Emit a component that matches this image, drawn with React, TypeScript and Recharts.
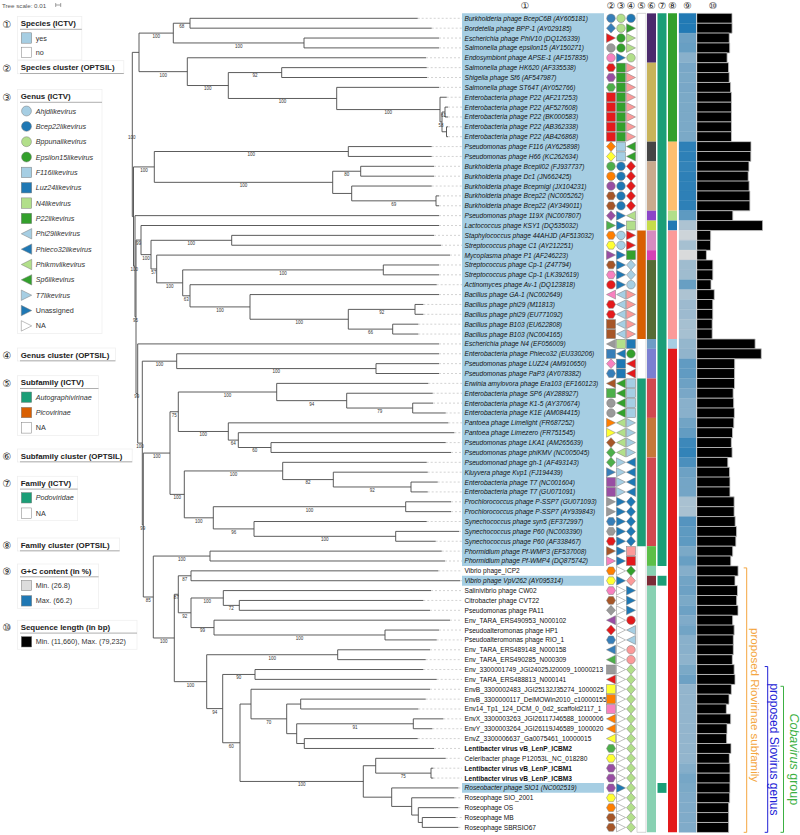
import React, { useMemo } from "react";
import {
  ComposedChart,
  BarChart,
  Bar,
  XAxis,
  YAxis,
  Scatter,
  ReferenceLine,
  ReferenceArea,
} from "recharts";

// ─── Leaves (top to bottom) ───────────────────────────────────────────────────

const LEAF_NAMES = [
  "Burkholderia phage BcepC6B (AY605181)",
  "Bordetella phage BPP-1 (AY029185)",
  "Escherichia phage PhiV10 (DQ126339)",
  "Salmonella phage epsilon15 (AY150271)",
  "Endosymbiont phage APSE-1 (AF157835)",
  "Salmonella phage HK620 (AF335538)",
  "Shigella phage Sf6 (AF547987)",
  "Salmonella phage ST64T (AY052766)",
  "Enterobacteria phage P22 (AF217253)",
  "Enterobacteria phage P22 (AF527608)",
  "Enterobacteria phage P22 (BK000583)",
  "Enterobacteria phage P22 (AB362338)",
  "Enterobacteria phage P22 (AB426868)",
  "Pseudomonas phage F116 (AY625898)",
  "Pseudomonas phage H66 (KC262634)",
  "Burkholderia phage Bcepil02 (FJ937737)",
  "Burkholderia phage Dc1 (JN662425)",
  "Burkholderia phage Bcepmigl (JX104231)",
  "Burkholderia phage Bcep22 (NC005262)",
  "Burkholderia phage Bcep22 (AY349011)",
  "Pseudomonas phage 119X (NC007807)",
  "Lactococcus phage KSY1 (DQ535032)",
  "Staphylococcus phage 44AHJD (AF513032)",
  "Streptococcus phage C1 (AY212251)",
  "Mycoplasma phage P1 (AF246223)",
  "Streptococcus phage Cp-1 (Z47794)",
  "Streptococcus phage Cp-1 (LK392619)",
  "Actinomyces phage Av-1 (DQ123818)",
  "Bacillus phage GA-1 (NC002649)",
  "Bacillus phage phi29 (M11813)",
  "Bacillus phage phi29 (EU771092)",
  "Bacillus phage B103 (EU622808)",
  "Bacillus phage B103 (NC004165)",
  "Escherichia phage N4 (EF056009)",
  "Enterobacteria phage Phieco32 (EU330206)",
  "Pseudomonas phage LUZ24 (AM910650)",
  "Pseudomonas phage PaP3 (AY078382)",
  "Erwinia amylovora phage Era103 (EF160123)",
  "Enterobacteria phage SP6 (AY288927)",
  "Enterobacteria phage K1-5 (AY370674)",
  "Enterobacteria phage K1E (AM084415)",
  "Pantoea phage Limelight (FR687252)",
  "Pantoea phage Limezero (FR751545)",
  "Pseudomonas phage LKA1 (AM265639)",
  "Pseudomonas phage phiKMV (NC005045)",
  "Pseudomonad phage gh-1 (AF493143)",
  "Kluyvera phage Kvp1 (FJ194439)",
  "Enterobacteria phage T7 (NC001604)",
  "Enterobacteria phage T7 (GU071091)",
  "Prochlorococcus phage P-SSP7 (GU071093)",
  "Prochlorococcus phage P-SSP7 (AY939843)",
  "Synechococcus phage syn5 (EF372997)",
  "Synechococcus phage P60 (NC003390)",
  "Synechococcus phage P60 (AF338467)",
  "Phormidium phage Pf-WMP3 (EF537008)",
  "Phormidium phage Pf-WMP4 (DQ875742)",
  "Vibrio phage_ICP2",
  "Vibrio phage VpV262 (AY095314)",
  "Salinivibrio phage CW02",
  "Citrobacter phage CVT22",
  "Pseudomonas phage PA11",
  "Env_TARA_ERS490953_N000102",
  "Pseudoalteromonas phage HP1",
  "Pseudoalteromonas phage RIO_1",
  "Env_TARA_ERS489148_N000158",
  "Env_TARA_ERS490285_N000309",
  "Env_3300001749_JGI24025J20009_10000213",
  "Env_TARA_ERS488813_N000141",
  "EnvB_3300002483_JGI25132J35274_1000025",
  "EnvB_3300000117_DelMOWin2010_c10000155",
  "Env14_Tp1_124_DCM_0_0d2_scaffold2117_1",
  "EnvX_3300003263_JGI26117J46588_1000006",
  "EnvY_3300003264_JGI26119J46589_1000020",
  "EnvZ_3300006637_Ga0075461_10000015",
  "Lentibacter virus vB_LenP_ICBM2",
  "Celeribacter phage P12053L_NC_018280",
  "Lentibacter virus vB_LenP_ICBM1",
  "Lentibacter virus vB_LenP_ICBM3",
  "Roseobacter phage SIO1 (NC002519)",
  "Roseophage SIO_2001",
  "Roseophage OS",
  "Roseophage MB",
  "Roseophage SBRSIO67",
];

// rows in bold type (1-based)
const BOLD_ROWS = [75, 77, 78];

// ─── Tree (Newick, leaves numbered by row, bootstrap as node labels) ─────────

const CLADE_A =
  "(((1:0.4554,2:0.4834)68:0.0334,(3:0.27,4:0.27)100:0.2614)100:0.0686," +
  "(5:0.4774,((6:0.29,7:0.2906)92:0.1068,(8:0.2046,(9:0.0134,((10:0.006,11:0.006)61:0.006," +
  "(12:0.003,13:0.003):0.009)58:0.004)100:0.2066)100:0.2168)100:0.082)100:0.0966):0.0134";
const CLADE_B =
  "((14:0.1668,15:0.1668)100:0.388,((16:0.1466,17:0.1466)80:0.056," +
  "(18:0.16,(19:0.006,20:0.006)69:0.1686):0.038)100:0.3568)100:0.0416";
const CLADE_PICO =
  "(22:0.596,((23:0.4046,24:0.4186)100:0.1614,(25:0.5866,((26:0.1114,27:0.1114)100:0.4012," +
  "(28:0.4934,(29:0.378,((30:0.0166,31:0.0166)92:0.1334,(32:0.0512,33:0.0512)66:0.0888)100:0.1966)100:0.12)63:0.0146)100:0.052)57:0.0114)100:0.02)99:0.01";
const CLADE_LUZ = "(35:0.5246,(36:0.126,37:0.126)100:0.3986)100:0.0688";
const CLADE_SP6 =
  "((38:0.3032,(39:0.172,(40:0.0406,41:0.066)79:0.132)94:0.14)100:0.1968," +
  "(42:0.44,(43:0.432,(44:0.3494,45:0.36)60:0.0654)64:0.02)100:0.1)75:0.0166";
const CLADE_T7 =
  "((46:0.288,(47:0.1888,(48:0.0534,49:0.0334)92:0.1554)82:0.1012)100:0.1968," +
  "((50:0.0906,51:0.0906)100:0.3848,(52:0.3454,(53:0.1266,54:0.08)100:0.2834)96:0.0814)100:0.058)100:0.0286";
const CLADE_RIO_A =
  "((57:0.4946,58:0.538)87:0.0254,((59:0.4154,(60:0.368,61:0.3814)72:0.032)100:0.0646," +
  "(62:0.472,(63:0.108,64:0.1034)100:0.342)99:0.046)92:0.0254)87:0.008";
const CLADE_SIO =
  "((67:0.3366,68:0.3634)90:0.0646,((69:0.358,((70:0.25,71:0.2352):0.028,((72:0.06,73:0.038)91:0.2332," +
  "(74:0.2268,75:0.2594):0.0152):0.02)70:0.0714):0.022,((76:0.14,(77:0.0046,78:0.0046)75:0.1106):0.0248," +
  "(79:0.1332,(80:0.0852,(81:0.08,(82:0.0668,83:0.072):0.008):0.0132):0.04):0.0568)100:0.2466)60:0.0346)94:0.032";
const CLADE_RIO =
  "((55:0.4634,56:0.47)100:0.1134,(" + CLADE_RIO_A + ",((65:0.1846,66:0.176)100:0.262," +
  CLADE_SIO + ")100:0.0648)100:0.042)85:0.02";

const TREE_NEWICK =
  "(" + CLADE_A + ",(" + CLADE_B + ",(21:0.608,(" + CLADE_PICO + ",(34:0.6026,(" + CLADE_LUZ +
  ",((" + CLADE_SP6 + "," + CLADE_T7 + ")100:0.0534," + CLADE_RIO +
  ")99:0.002)100:0.0092)99:0.0034)95:0.002)100:0.003):0.0024)100;";

// ─── Annotation columns (one entry per row) ──────────────────────────────────

// ① species (ICTV): 1 = yes
const SPECIES_ICTV = (
  "11111111111111111111111111111111111111111111111111111111" + "0" + "1" + "00000000000000000000" + "1" + "0000"
).split("");

// ② species cluster (OPTSIL): shape + colour key
const SPECIES_CLUSTER = (
  "CB DB RR CA CK HR HP HG SR SR SR SR SR " +
  "DO DY CG CO CP HN HN " +
  "DP RG HO HY RP HN HK CR LK HR HR SN SN " +
  "LA SB DK HB " +
  "LN SG CA CA RO RY DN DG DG RB SP SP RA RA HB HA HR RN RK " +
  "HO HY HK HN DA LP DR HB LB LG SA LR SY SO SK LO LO LY HG HY HP HP HP HY HO HN HN"
).split(" ");

// ③ genus (ICTV)
const GENUS_ICTV = (
  "Cl Cl Cg Cg Rd Sg Sg Sg Sg Sg Sg Sg Sg " +
  "Sb Sb Cd Cd Cd Cd Cd " +
  "Rd Rd Cb Cb Rd Rd Rd Rd Lb Lb Lb Lb Lb " +
  "Sl Ld Sd Sd " +
  "Lg Lg Lg Lg Ll Ll Ll Ll Rb Rb Rb Rb Rd Rd Rd Rd Rd Rd Rd " +
  "Rw Rd Rw Rw Rw Rw Rw Rw Rw Rw Rw Rw Rw Rw Rw Rw Rw Rw Rw Rw Rw Rw Rd Rw Rw Rw Rw"
).split(" ");

// ④ genus cluster (OPTSIL)
const GENUS_CLUSTER = (
  "Cd Rg Rl Rl Cl Rk Rk Rk Rk Rk Rk Rk Rk " +
  "Lg Lg Dr Dr Dr Dr Dr " +
  "Ll Sl Rr Rr Sg Db Db Cb Rk Rk Rk Rk Rk " +
  "Sd Cg Lr Lr " +
  "Sb Sb Sb Sb Rb Rb Rb Rb Ld Ld Ld Ld Dd Dd Dd Dd Dd Sk Sr " +
  "Dg Dk Rd Rd Rd Cr Lb Lb Ck Ck Dl Dl Dl Dl Dl Dl Dl Dl Dl Dl Dl Dl Dl Dl Dl Dl Dl"
).split(" ");

// ⑤ subfamily (ICTV): n = NA, p = Picovirinae, a = Autographivirinae
const SUBFAMILY = (
  "nnnnnnnnnnnnnnnnnnnnnn" + "ppppppppppp" + "nnnn" + "aaaaaaaaaaaaaaaaa" + "nnnnnnnnnnnnnnnnnnnnnnnnnnnnn"
).split("");

// ⑥ subfamily cluster (OPTSIL)
const SUBFAMILY_CLUSTER = [
  1, 1, 1, 1, 1, 2, 2, 2, 2, 2, 2, 2, 2, 3, 3, 4, 4, 4, 4, 4,
  5, 6, 7, 7, 8, 9, 9, 9, 9, 9, 9, 9, 9, 10, 11, 11, 11,
  12, 12, 12, 12, 13, 13, 13, 13, 12, 12, 12, 12, 12, 12, 12, 12, 12, 14, 14,
  15, 16, 15, 15, 15, 15, 15, 15, 15, 15, 15, 15, 15, 15, 15, 15, 15, 15, 15, 15, 15, 15, 15, 15, 15, 15, 15,
];

// ⑦ family (ICTV): 1 = Podoviridae
const FAMILY_ICTV = (
  "11111111111111111111111111111111111111111111111111111111" + "0" + "1" + "00000000000000000000" + "1" + "0000"
).split("");

// ⑧ family cluster (OPTSIL)
const FAMILY_CLUSTER = [
  1, 1, 1, 1, 1, 1, 1, 1, 1, 1, 1, 1, 1, 2, 2, 2, 2, 2, 2, 2,
  3, 4, 5, 5, 5, 5, 5, 5, 5, 5, 5, 5, 5, 6,
  7, 7, 7, 7, 7, 7, 7, 7, 7, 7, 7, 7, 7, 7, 7, 7, 7, 7, 7, 7, 7, 7,
  7, 7, 7, 7, 7, 7, 7, 7, 7, 7, 7, 7, 7, 7, 7, 7, 7, 7, 7, 7, 7, 7, 7, 7, 7, 7, 7,
];

// ⑨ G+C content (%)
const GC_CONTENT = [
  65.5, 65.5, 50, 51, 44, 47.5, 47, 47.5, 47, 47, 47, 47, 47,
  63, 63, 62, 63, 63, 63, 63,
  53, 36.5, 30, 38, 27.5, 39.5, 39.5, 51, 36.5, 40, 40, 38, 38,
  41.5, 42.5, 52.5, 52.5,
  50, 47.5, 44, 44, 49, 52, 60, 62, 57, 50, 48.5, 48.5, 37.5, 37.5, 55, 53, 53, 47, 51,
  45, 49, 50, 47, 50, 46, 49, 44, 44, 43, 47, 50, 42, 42, 42, 42, 42, 42, 42, 42, 45, 48, 47, 46, 46, 46, 46,
];
const GC_RANGE = [26.8, 66.2];

// ⑩ sequence length (bp)
const SEQ_LENGTH = [
  42417, 42493, 39104, 39671, 36524, 38297, 39044, 40679, 41724, 41724, 41724, 41724, 41724,
  65195, 64999, 62714, 61847, 62952, 63882, 63882,
  43365, 79232, 16784, 16687, 11660, 19343, 19343, 17171, 21129, 19282, 19282, 18630, 18630,
  70153, 77554, 45625, 45503,
  45445, 43769, 44385, 45251, 44546, 43032, 41593, 42519, 37359, 39472, 39937, 39937, 44970, 44970,
  46214, 47872, 47000, 43249, 40938,
  49675, 45962, 49000, 48000, 49600, 43200, 45000, 44000, 44000, 42800, 45000, 46000, 41600, 38800,
  35600, 40800, 36400, 36000, 41200, 39200, 40000, 40000, 39898, 39600, 38400, 38400, 38400,
];

// proposed groups (first row, last row)
const GROUPS = [
  { name: "proposed Riovirinae subfamily", from: 57, to: 83 },
  { name: "proposed Siovirus genus", from: 67, to: 83 },
  { name: "Cobavirus group", from: 69, to: 83 },
];

// ─── Colours ──────────────────────────────────────────────────────────────────

const PALETTE: Record<string, string> = {
  R: "#e41a1c", B: "#377eb8", G: "#4daf4a", P: "#984ea3", O: "#ff7f00",
  Y: "#ffff33", N: "#a65628", K: "#f781bf", A: "#999999",
  b: "#a6cee3", d: "#1f78b4", l: "#b2df8a", g: "#33a02c", k: "#fb9a99", r: "#e31a1c", w: "#ffffff",
};
const SUBFAMILY_COLORS: Record<string, string | null> = { n: null, p: "#d95f02", a: "#1b9e77" };
const SUBFAMILY_CLUSTER_COLORS: Record<number, string> = {
  1: "#4b2a6c", 2: "#c8b35a", 3: "#454545", 4: "#c9aa8e", 5: "#8b45c8", 6: "#c6dc4a",
  7: "#d68cc0", 8: "#d641b5", 9: "#566b36", 10: "#6f9cc6", 11: "#7b7fd1", 12: "#d1484f",
  13: "#c57839", 14: "#5cbf48", 15: "#88d1b2", 16: "#7b2b36",
};
const FAMILY_CLUSTER_COLORS: Record<number, string> = {
  1: "#33a02c", 2: "#fdbf6f", 3: "#b2df8a", 4: "#1f78b4", 5: "#fb9a99", 6: "#a6cee3", 7: "#e31a1c",
};
const PODO = "#1b9e77";
const LABEL_BG = "#a6cee3";
const GC_LOW = [220, 220, 220];
const GC_HIGH = [31, 120, 180];
const GROUP_COLORS = ["#f4a640", "#2222d6", "#3cb043"];
const BRANCH = "#4a4a4a";

// ─── Layout ───────────────────────────────────────────────────────────────────

const W = 800;
const H = 835;
const FONT = "'Liberation Sans', Arial, Helvetica, sans-serif";
const ROOT_PX = 132.3;
const PX_PER_UNIT = 500;
const TREE_DOMAIN = [-ROOT_PX / PX_PER_UNIT, (W - ROOT_PX) / PX_PER_UNIT];
const ROW_TOP = 18.3;
const ROW_PX = 9.867;
const ROW_DOMAIN = [-ROW_TOP / ROW_PX, (H - ROW_TOP) / ROW_PX];
const ALIGN_DEPTH = (462 - ROOT_PX) / PX_PER_UNIT;
const SCALE_BAR_X = (55.7 - ROOT_PX) / PX_PER_UNIT;
const HEADER_ROW = (5 - ROW_TOP) / ROW_PX;

const COL = {
  labelBox: [462, 604],
  label: 464.5,
  species: 611,
  genus: 621,
  genusCl: 631,
  subfam: [637, 646],
  subfamCl: [647, 656],
  family: [657.5, 666.5],
  familyCl: [668, 677],
  gc: [679, 696],
  bars: [696.7, 762.7],
};
const GROUP_X = [746.7, 767.7, 783.5];
const GROUP_TEXT_X = [754.5, 774, 793.5];
const HEADERS: [string, number][] = [
  ["①", 525], ["②", 611], ["③", 621], ["④", 631], ["⑤", 641.5],
  ["⑥", 651.5], ["⑦", 662], ["⑧", 672.5], ["⑨", 687.5], ["⑩", 713],
];

// ─── Tree parsing / layout ────────────────────────────────────────────────────

interface TNode {
  children: TNode[];
  label: string;
  len: number;
  depth: number;
  y: number;
  parent: TNode | null;
}

function parseNewick(s: string): TNode {
  let i = 0;
  const read = (): TNode => {
    const node: TNode = { children: [], label: "", len: 0, depth: 0, y: 0, parent: null };
    if (s[i] === "(") {
      i++;
      node.children.push(read());
      while (s[i] === ",") {
        i++;
        node.children.push(read());
      }
      i++;
    }
    let lab = "";
    while (i < s.length && !":,();".includes(s[i])) lab += s[i++];
    node.label = lab;
    if (s[i] === ":") {
      i++;
      let num = "";
      while (i < s.length && !",();".includes(s[i])) num += s[i++];
      node.len = parseFloat(num);
    }
    return node;
  };
  return read();
}

function layoutTree(root: TNode): TNode[] {
  const all: TNode[] = [];
  const walk = (n: TNode, parent: TNode | null) => {
    n.parent = parent;
    n.depth = (parent ? parent.depth : 0) + n.len;
    if (n.children.length) {
      n.children.forEach((c) => walk(c, n));
      n.y = (n.children[0].y + n.children[n.children.length - 1].y) / 2;
    } else {
      n.y = parseInt(n.label, 10) - 1;
    }
    all.push(n);
  };
  root.len = 0;
  walk(root, null);
  return all;
}

function runs<T>(arr: T[]) {
  const out: { start: number; end: number; value: T }[] = [];
  arr.forEach((v, i) => {
    const last = out[out.length - 1];
    if (last && last.value === v && last.end === i - 1) last.end = i;
    else out.push({ start: i, end: i, value: v });
  });
  return out;
}

function gcColor(v: number) {
  const t = Math.max(0, Math.min(1, (v - GC_RANGE[0]) / (GC_RANGE[1] - GC_RANGE[0])));
  const c = GC_LOW.map((a, k) => Math.round(a + (GC_HIGH[k] - a) * t));
  return `rgb(${c[0]},${c[1]},${c[2]})`;
}

const colorOf = (key: string) => PALETTE[key] ?? key;

// ─── Shapes ───────────────────────────────────────────────────────────────────

function Glyph({ cx, cy, shape, fill, r = 4.5 }: { cx: number; cy: number; shape: string; fill: string; r?: number }) {
  const common = { fill, stroke: "#7d7d7d", strokeWidth: 0.5 };
  const poly = (pts: number[][]) => <polygon points={pts.map((p) => p.join(",")).join(" ")} {...common} />;
  switch (shape) {
    case "C":
      return <circle cx={cx} cy={cy} r={r * 0.95} {...common} />;
    case "S":
      return <rect x={cx - r} y={cy - r} width={2 * r} height={2 * r} {...common} />;
    case "D":
      return poly([[cx, cy - r * 1.1], [cx + r, cy], [cx, cy + r * 1.1], [cx - r, cy]]);
    case "R":
      return poly([[cx - r, cy - r], [cx + r, cy], [cx - r, cy + r]]);
    case "L":
      return poly([[cx + r, cy - r], [cx - r, cy], [cx + r, cy + r]]);
    default: {
      const pts = [0, 60, 120, 180, 240, 300].map((a) => [
        cx + r * Math.cos((a * Math.PI) / 180),
        cy + r * Math.sin((a * Math.PI) / 180),
      ]);
      return poly(pts);
    }
  }
}

// ─── Legend ───────────────────────────────────────────────────────────────────

type LegendItem = [string, string, string, boolean];

const GENUS_LEGEND: LegendItem[] = [
  ["C", "b", "Ahjdlikevirus", true],
  ["C", "d", "Bcep22likevirus", true],
  ["C", "l", "Bppunalikevirus", true],
  ["C", "g", "Epsilon15likevirus", true],
  ["S", "b", "F116likevirus", true],
  ["S", "d", "Luz24likevirus", true],
  ["S", "l", "N4likevirus", true],
  ["S", "g", "P22likevirus", true],
  ["L", "b", "Phi29likevirus", true],
  ["L", "d", "Phieco32likevirus", true],
  ["L", "l", "Phikmvlikevirus", true],
  ["L", "g", "Sp6likevirus", true],
  ["R", "b", "T7likevirus", true],
  ["R", "d", "Unassigned", false],
  ["R", "w", "NA", false],
];

const LEGEND_SECTIONS: { num: string; title: string; items: LegendItem[] }[] = [
  { num: "①", title: "Species (ICTV)", items: [["S", "b", "yes", false], ["S", "w", "no", false]] },
  { num: "②", title: "Species cluster (OPTSIL)", items: [] },
  { num: "③", title: "Genus (ICTV)", items: GENUS_LEGEND },
  { num: "④", title: "Genus cluster (OPTSIL)", items: [] },
  {
    num: "⑤",
    title: "Subfamily (ICTV)",
    items: [["S", "#1b9e77", "Autographivirinae", true], ["S", "#d95f02", "Picovirinae", true], ["S", "w", "NA", false]],
  },
  { num: "⑥", title: "Subfamily cluster (OPTSIL)", items: [] },
  { num: "⑦", title: "Family (ICTV)", items: [["S", "#1b9e77", "Podoviridae", true], ["S", "w", "NA", false]] },
  { num: "⑧", title: "Family cluster (OPTSIL)", items: [] },
  { num: "⑨", title: "G+C content (in %)", items: [["S", "#dcdcdc", "Min. (26.8)", false], ["S", "#1f78b4", "Max. (66.2)", false]] },
  { num: "⑩", title: "Sequence length (in bp)", items: [["S", "#000000", "Min. (11,660), Max. (79,232)", false]] },
];
const LEGEND_Y = [23.5, 67.7, 96.5, 355, 382.7, 456, 483.3, 545, 571, 627.3];

function LegendPanel() {
  return (
    <svg width={W} height={H} style={{ position: "absolute", left: 0, top: 0, pointerEvents: "none" }}>
      <text x={2} y={5} fontSize={6.2} fill="#555" dominantBaseline="central" fontFamily={FONT}>
        Tree scale: 0.01
      </text>
      {HEADERS.map(([t, x]) => (
        <text key={t} x={x} y={5.5} fontSize={9.5} textAnchor="middle" dominantBaseline="central" fill="#222" fontFamily="'DejaVu Sans', sans-serif">
          {t}
        </text>
      ))}
      {LEGEND_SECTIONS.map((s, si) => {
        const y0 = LEGEND_Y[si];
        const step = si === 0 ? 14.4 : 15.35;
        const titleW = s.title.length * 4.2;
        const itemW = s.items.length ? 16 + Math.max(...s.items.map((it) => it[2].length)) * 3.5 : 0;
        const right = 20 + Math.max(titleW, itemW) + 3;
        const bottom = s.items.length ? y0 + 14.5 + (s.items.length - 1) * step + 7.5 : y0 + 6;
        return (
          <g key={s.num} fontFamily={FONT}>
            <rect x={17.5} y={y0 - 7} width={right - 17.5} height={bottom - y0 + 7} fill="none" stroke="#efefef" strokeWidth={0.8} />
            <text x={7} y={y0 + 0.5} fontSize={10} textAnchor="middle" dominantBaseline="central" fill="#222" fontFamily="'DejaVu Sans', sans-serif">
              {s.num}
            </text>
            <text x={20.7} y={y0} fontSize={7.9} fontWeight="bold" dominantBaseline="central" fill="#222">
              {s.title}
            </text>
            <line x1={20} x2={right} y1={y0 + 5.8} y2={y0 + 5.8} stroke="#9a9a9a" strokeWidth={0.8} />
            {s.items.map((it, k) => {
              const y = y0 + 14.5 + k * step;
              return (
                <g key={it[2]}>
                  <Glyph cx={26.5} cy={y} shape={it[0]} fill={colorOf(it[1])} r={5.2} />
                  <text x={35.7} y={y} fontSize={7.2} fontStyle={it[3] ? "italic" : "normal"} dominantBaseline="central" fill="#333">
                    {it[2]}
                  </text>
                </g>
              );
            })}
          </g>
        );
      })}
    </svg>
  );
}

// ─── Chart ────────────────────────────────────────────────────────────────────

export default function App() {
  const nodes = useMemo(() => layoutTree(parseNewick(TREE_NEWICK)), []);

  const horizontals = nodes.filter((n) => n.parent);
  const verticals = nodes.filter((n) => n.children.length);
  const leaves = nodes.filter((n) => !n.children.length);
  const bootData = verticals
    .filter((n) => n.label)
    .map((n) => ({
      x: n.parent ? (n.parent.depth + n.depth) / 2 : n.depth - 0.001,
      y: n.y,
      text: n.label,
    }));

  const rows = LEAF_NAMES.map((_, i) => i);
  const labelData = LEAF_NAMES.map((name, i) => ({
    x: COL.label,
    y: i,
    name,
    italic: SPECIES_ICTV[i] === "1",
    bold: BOLD_ROWS.includes(i + 1),
  }));
  const markerData = (codes: string[], x: number) => codes.map((code, i) => ({ x, y: i, code }));
  const speciesRuns = runs(SPECIES_ICTV).filter((r) => r.value === "1");
  const barData = SEQ_LENGTH.map((len, i) => ({ row: String(i), len }));
  const groupText = GROUPS.map((g, k) => ({
    x: GROUP_TEXT_X[k],
    y: (g.from - 1.3 + g.to - 0.5) / 2 + (k === 0 ? 0.5 : 0),
    k,
    name: g.name,
  }));

  const stripAreas = (
    key: string,
    xs: number[],
    values: (string | number)[],
    colorFor: (v: any) => string | null
  ) =>
    runs(values).map((r) => {
      const fill = colorFor(r.value);
      if (!fill) return null;
      return (
        <ReferenceArea
          key={`${key}-${r.start}`}
          xAxisId="px"
          yAxisId="row"
          x1={xs[0]}
          x2={xs[1]}
          y1={r.start - 0.5}
          y2={r.end + 0.5}
          fill={fill}
          fillOpacity={1}
          stroke="none"
          ifOverflow="visible"
        />
      );
    });

  return (
    <div style={{ position: "absolute", left: 0, top: 0, width: W, height: H, background: "#fff", fontFamily: FONT }}>
      <ComposedChart width={W} height={H} margin={{ top: 0, right: 0, bottom: 0, left: 0 }}>
        <XAxis xAxisId="tree" type="number" dataKey="x" domain={TREE_DOMAIN} hide allowDataOverflow />
        <XAxis xAxisId="px" type="number" dataKey="x" domain={[0, W]} hide allowDataOverflow />
        <YAxis yAxisId="row" type="number" dataKey="y" domain={ROW_DOMAIN} reversed hide allowDataOverflow />

        {/* ① label background for ICTV species */}
        {speciesRuns.map((r) => (
          <ReferenceArea
            key={`sp-${r.start}`}
            xAxisId="px"
            yAxisId="row"
            x1={COL.labelBox[0]}
            x2={COL.labelBox[1]}
            y1={r.start - 0.5}
            y2={r.end + 0.5}
            fill={LABEL_BG}
            fillOpacity={1}
            stroke="none"
            ifOverflow="visible"
          />
        ))}

        {/* ⑤ – ⑧ strips */}
        {stripAreas("sf", COL.subfam, SUBFAMILY, (v) => SUBFAMILY_COLORS[v])}
        <ReferenceArea
          xAxisId="px"
          yAxisId="row"
          x1={COL.subfam[0]}
          x2={COL.subfam[1]}
          y1={-0.5}
          y2={rows.length - 0.5}
          fill="none"
          stroke="#c4c4c4"
          strokeWidth={0.7}
          ifOverflow="visible"
        />
        {stripAreas("sfc", COL.subfamCl, SUBFAMILY_CLUSTER, (v) => SUBFAMILY_CLUSTER_COLORS[v])}
        {stripAreas("fam", COL.family, FAMILY_ICTV, (v) => (v === "1" ? PODO : null))}
        {stripAreas("famc", COL.familyCl, FAMILY_CLUSTER, (v) => FAMILY_CLUSTER_COLORS[v])}

        {/* ⑨ G+C heatmap */}
        {GC_CONTENT.map((v, i) => (
          <ReferenceArea
            key={`gc-${i}`}
            xAxisId="px"
            yAxisId="row"
            x1={COL.gc[0]}
            x2={COL.gc[1]}
            y1={i - 0.5}
            y2={i + 0.5}
            fill={gcColor(v)}
            fillOpacity={1}
            stroke={gcColor(v)}
            strokeWidth={0.3}
            ifOverflow="visible"
          />
        ))}

        {/* tree: leader lines, horizontals, verticals */}
        {leaves.map((n, i) => (
          <ReferenceLine
            key={`ld-${i}`}
            xAxisId="tree"
            yAxisId="row"
            segment={[{ x: n.depth, y: n.y }, { x: ALIGN_DEPTH, y: n.y }]}
            stroke="#b5b5b5"
            strokeWidth={0.6}
            strokeDasharray="2 2"
            ifOverflow="visible"
          />
        ))}
        {horizontals.map((n, i) => (
          <ReferenceLine
            key={`h-${i}`}
            xAxisId="tree"
            yAxisId="row"
            segment={[{ x: n.parent!.depth, y: n.y }, { x: n.depth, y: n.y }]}
            stroke={BRANCH}
            strokeWidth={0.9}
            ifOverflow="visible"
          />
        ))}
        {verticals.map((n, i) => (
          <ReferenceLine
            key={`v-${i}`}
            xAxisId="tree"
            yAxisId="row"
            segment={[
              { x: n.depth, y: n.children[0].y },
              { x: n.depth, y: n.children[n.children.length - 1].y },
            ]}
            stroke={BRANCH}
            strokeWidth={0.9}
            ifOverflow="visible"
          />
        ))}

        {/* tree scale bar (0.01) */}
        <ReferenceLine
          xAxisId="tree"
          yAxisId="row"
          segment={[{ x: SCALE_BAR_X, y: HEADER_ROW }, { x: SCALE_BAR_X + 0.01, y: HEADER_ROW }]}
          stroke="#777"
          strokeWidth={0.7}
          ifOverflow="visible"
        />
        {[SCALE_BAR_X, SCALE_BAR_X + 0.01].map((x) => (
          <ReferenceLine
            key={`sb-${x}`}
            xAxisId="tree"
            yAxisId="row"
            segment={[{ x, y: HEADER_ROW - 0.2 }, { x, y: HEADER_ROW + 0.2 }]}
            stroke="#777"
            strokeWidth={0.7}
            ifOverflow="visible"
          />
        ))}

        {/* group brackets */}
        {GROUPS.map((g, k) => {
          const top = g.from - 1.3;
          const bot = g.to - 0.5;
          const x = GROUP_X[k];
          return [
            <ReferenceLine
              key={`g-${k}`}
              xAxisId="px"
              yAxisId="row"
              segment={[{ x, y: top }, { x, y: bot }]}
              stroke={GROUP_COLORS[k]}
              strokeWidth={1}
              ifOverflow="visible"
            />,
            <ReferenceLine
              key={`gt-${k}`}
              xAxisId="px"
              yAxisId="row"
              segment={[{ x: x - 3, y: top }, { x, y: top }]}
              stroke={GROUP_COLORS[k]}
              strokeWidth={1}
              ifOverflow="visible"
            />,
            <ReferenceLine
              key={`gb-${k}`}
              xAxisId="px"
              yAxisId="row"
              segment={[{ x: x - 3, y: bot }, { x, y: bot }]}
              stroke={GROUP_COLORS[k]}
              strokeWidth={1}
              ifOverflow="visible"
            />,
          ];
        })}

        {/* bootstrap values */}
        <Scatter
          xAxisId="tree"
          yAxisId="row"
          data={bootData}
          isAnimationActive={false}
          shape={(p: any) => (
            <text x={p.cx} y={p.cy + 3.4} fontSize={4.5} textAnchor="middle" dominantBaseline="central" fill="#333" fontFamily={FONT}>
              {p.payload.text}
            </text>
          )}
        />

        {/* leaf labels */}
        <Scatter
          xAxisId="px"
          yAxisId="row"
          data={labelData}
          isAnimationActive={false}
          shape={(p: any) => (
            <text
              x={p.cx}
              y={p.cy}
              fontSize={6.6}
              fontStyle={p.payload.italic ? "italic" : "normal"}
              fontWeight={p.payload.bold ? "bold" : "normal"}
              dominantBaseline="central"
              fill="#111"
              fontFamily={FONT}
            >
              {p.payload.name}
            </text>
          )}
        />

        {/* ② ③ ④ symbol columns */}
        {[
          markerData(SPECIES_CLUSTER, COL.species),
          markerData(GENUS_ICTV, COL.genus),
          markerData(GENUS_CLUSTER, COL.genusCl),
        ].map((d, k) => (
          <Scatter
            key={`m-${k}`}
            xAxisId="px"
            yAxisId="row"
            data={d}
            isAnimationActive={false}
            shape={(p: any) => (
              <Glyph cx={p.cx} cy={p.cy} shape={p.payload.code[0]} fill={colorOf(p.payload.code[1])} />
            )}
          />
        ))}

        {/* group names */}
        <Scatter
          xAxisId="px"
          yAxisId="row"
          data={groupText}
          isAnimationActive={false}
          shape={(p: any) => {
            const { k, name } = p.payload;
            const words = name.split(" ");
            return (
              <text
                x={p.cx}
                y={p.cy}
                transform={`rotate(90 ${p.cx} ${p.cy})`}
                fontSize={[11.5, 12, 12.5][k]}
                textAnchor="middle"
                dominantBaseline="central"
                fill={GROUP_COLORS[k]}
                fontFamily={FONT}
              >
                {k === 2 ? (
                  <>
                    <tspan fontStyle="italic">{words[0]}</tspan>
                    <tspan> {words.slice(1).join(" ")}</tspan>
                  </>
                ) : (
                  name
                )}
              </text>
            );
          }}
        />
      </ComposedChart>

      {/* ⑩ sequence length bars */}
      <div style={{ position: "absolute", left: 0, top: 0 }}>
        <BarChart
          width={W}
          height={H}
          data={barData}
          layout="vertical"
          barCategoryGap={0}
          margin={{ top: ROW_TOP - ROW_PX / 2, right: W - COL.bars[1], bottom: H - (ROW_TOP + ROW_PX * 82.5), left: COL.bars[0] }}
        >
          <XAxis type="number" dataKey="len" domain={[0, Math.max(...SEQ_LENGTH)]} hide allowDataOverflow />
          <YAxis type="category" dataKey="row" hide />
          <Bar dataKey="len" fill="#000" stroke="#c6c6c6" strokeWidth={0.8} isAnimationActive={false} />
        </BarChart>
      </div>

      <LegendPanel />
    </div>
  );
}
